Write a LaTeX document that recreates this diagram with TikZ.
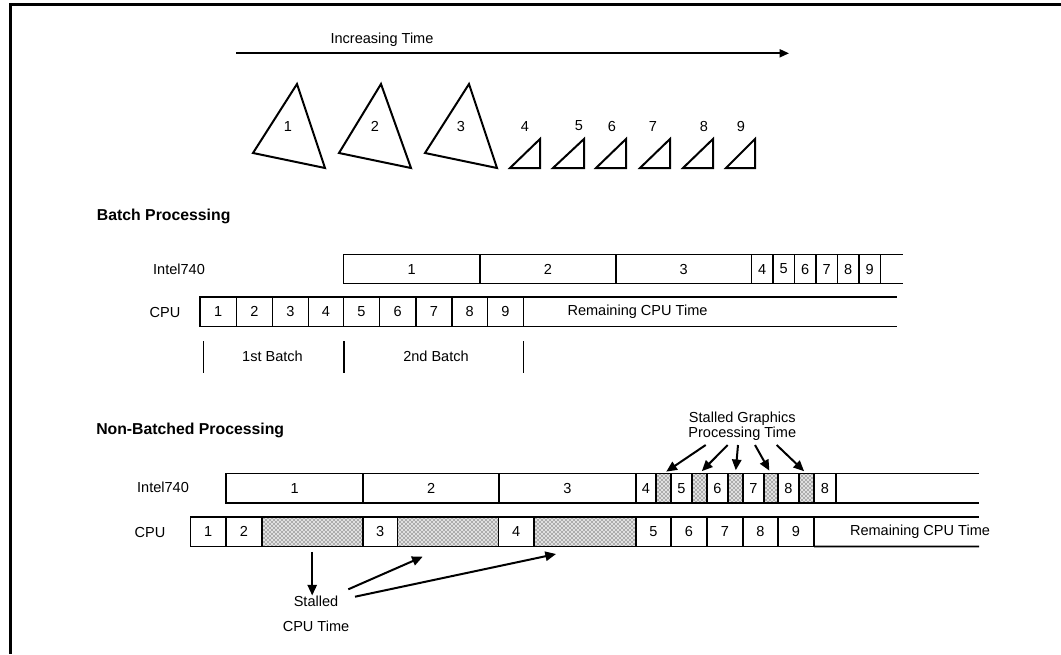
\documentclass[tikz,border=0pt]{standalone}
\usepackage{fontspec}
\setmainfont{Liberation Sans}
\usetikzlibrary{arrows.meta,patterns}
\newcommand{\cellat}[7][cell]{%
  \pgfmathsetmacro\cellcx{(#3+#4)/2}%
  \pgfmathsetmacro\cellcw{(#4-#3)*0.75}%
  \pgfmathsetmacro\cellcy{(#5+#6)/2}%
  \pgfmathsetmacro\cellch{(#6-#5)*0.75}%
  \node[#1, minimum width=\cellcw pt, minimum height=\cellch pt] (#2) at (\cellcx,\cellcy) {#7};}
\begin{document}
\begin{tikzpicture}[x=0.75pt,y=-0.75pt,
  txt/.style={inner sep=0pt, font=\fontsize{10.9}{13}\selectfont},
  head/.style={inner sep=0pt, anchor=west, font=\fontsize{11.85}{14}\selectfont\bfseries},
  cell/.style={draw, line width=1.4pt, inner sep=0pt, outer sep=0pt, font=\fontsize{10.9}{13}\selectfont},
  shd/.style={cell, fill=black!12, postaction={pattern=crosshatch dots, pattern color=black}},
  tri/.style={line width=1.5pt, line join=miter},
  rowline/.style={line width=1.4pt},
  arr/.style={line width=1.5pt, -{Triangle[length=8pt,width=7pt]}},
]
\useasboundingbox (0,0) rectangle (1061,654);
% frame
\draw[line width=2.3pt] (1061,4.2) -- (10.5,4.2) -- (10.5,654);
% time arrow
\node[txt] (inc) at (382,40) {Increasing Time};
\coordinate (t0) at (236,53.3);
\coordinate (t1) at (789,53.3);
\draw[line width=1.3pt, -{Triangle[length=7pt,width=6pt]}] (t0) -- (t1);
% big triangles
\draw[tri] (297,84) -- (253,153) -- (325,168) -- cycle;
\node[txt] (g1) at (288,126) {1};
\draw[tri] (381,84) -- (339,153) -- (411,168) -- cycle;
\node[txt] (g2) at (375,126) {2};
\draw[tri] (469,84) -- (425,153) -- (497,168) -- cycle;
\node[txt] (g3) at (461,126) {3};
% small triangles
\draw[tri] (510,168) -- (540,168) -- (540,139) -- cycle;
\node[txt] (g4) at (525,126) {4};
\draw[tri] (553,168) -- (584,168) -- (584,139) -- cycle;
\node[txt] (g5) at (579,126) {5};
\draw[tri] (596,168) -- (626,168) -- (626,139) -- cycle;
\node[txt] (g6) at (612,126) {6};
\draw[tri] (640,168) -- (670,168) -- (670,139) -- cycle;
\node[txt] (g7) at (653,126) {7};
\draw[tri] (683,168) -- (713,168) -- (713,139) -- cycle;
\node[txt] (g8) at (704,126) {8};
\draw[tri] (726,168) -- (755,168) -- (755,139) -- cycle;
\node[txt] (g9) at (741,126) {9};

% ---------------- Batch processing
\node[head] (bp) at (96.7,216.7) {Batch Processing};
\node[txt] (bil) at (179,269) {Intel740};
\node[txt] (bcl) at (165,312.5) {CPU};
\cellat{bi1}{343.5}{480}{254.5}{283.5}{1}
\cellat{bi2}{480}{616}{254.5}{283.5}{2}
\cellat{bi3}{616}{751.5}{254.5}{283.5}{3}
\cellat{bi4}{751.5}{773}{254.5}{283.5}{4}
\cellat{bi5}{773}{794.5}{254.5}{283.5}{5}
\cellat{bi6}{794.5}{816}{254.5}{283.5}{6}
\cellat{bi7}{816}{837.5}{254.5}{283.5}{7}
\cellat{bi8}{837.5}{859}{254.5}{283.5}{8}
\cellat{bi9}{859}{880.5}{254.5}{283.5}{9}
\draw[rowline] (bi9.north east) -- (903,254.5);
\draw[rowline] (bi9.south east) -- (903,283.5);

\cellat{bc1}{200}{236.5}{297}{326.5}{1}
\cellat{bc2}{236.5}{272.5}{297}{326.5}{2}
\cellat{bc3}{272.5}{308.5}{297}{326.5}{3}
\cellat{bc4}{308.5}{343.5}{297}{326.5}{4}
\cellat{bc5}{343.5}{379.5}{297}{326.5}{5}
\cellat{bc6}{379.5}{416}{297}{326.5}{6}
\cellat{bc7}{416}{452}{297}{326.5}{7}
\cellat{bc8}{452}{487.5}{297}{326.5}{8}
\cellat{bc9}{487.5}{523.5}{297}{326.5}{9}
\draw[rowline] (bc9.north east) -- (897,297);
\draw[rowline] (bc9.south east) -- (897,326.5);
\node[txt] (brem) at (637.5,312) {Remaining CPU Time};

\draw[rowline] (203.5,341) -- (203.5,373);
\draw[rowline] (344,341) -- (344,373);
\draw[rowline] (523.5,341) -- (523.5,373);
\node[txt] (b1) at (272.5,356) {1st Batch};
\node[txt] (b2) at (436,356) {2nd Batch};

% ---------------- Non-batched processing
\node[head] (nbp) at (96,430) {Non-Batched Processing};
\node[txt] (nil) at (163,487.5) {Intel740};
\node[txt] (ncl) at (150,532) {CPU};
\cellat{ni1}{226}{363.3}{473.5}{503}{1}
\cellat{ni2}{363.3}{499}{473.5}{503}{2}
\cellat{ni3}{499}{636}{473.5}{503}{3}
\cellat{ni4}{636}{656}{473.5}{503}{4}
\cellat[shd]{ns1}{656}{671}{473.5}{503}{}
\cellat{ni5}{671}{692}{473.5}{503}{5}
\cellat[shd]{ns2}{692}{707}{473.5}{503}{}
\cellat{ni6}{707}{728}{473.5}{503}{6}
\cellat[shd]{ns3}{728}{743}{473.5}{503}{}
\cellat{ni7}{743}{764}{473.5}{503}{7}
\cellat[shd]{ns4}{764}{778}{473.5}{503}{}
\cellat{ni8}{778}{799}{473.5}{503}{8}
\cellat[shd]{ns5}{799}{814}{473.5}{503}{}
\cellat{ni9}{814}{836}{473.5}{503}{8}
\draw[rowline] (ni9.north east) -- (979,473.5);
\draw[rowline] (ni9.south east) -- (979,503);

\cellat{nc1}{190.5}{226}{516.7}{546.5}{1}
\cellat{nc2}{226}{261.7}{516.7}{546.5}{2}
\cellat[shd]{ncs1}{261.7}{362.7}{516.7}{546.5}{}
\cellat{nc3}{362.7}{397.5}{516.7}{546.5}{3}
\cellat[shd]{ncs2}{397.5}{498.5}{516.7}{546.5}{}
\cellat{nc4}{498.5}{534}{516.7}{546.5}{4}
\cellat[shd]{ncs3}{534}{636}{516.7}{546.5}{}
\cellat{nc5}{636}{671}{516.7}{546.5}{5}
\cellat{nc6}{671}{707}{516.7}{546.5}{6}
\cellat{nc7}{707}{743}{516.7}{546.5}{7}
\cellat{nc8}{743}{778}{516.7}{546.5}{8}
\cellat{nc9}{778}{814}{516.7}{546.5}{9}
\draw[rowline] (nc9.north east) -- (979,516.7);
\draw[rowline] (nc9.south east) -- (979,546.5);
\node[txt] (nrem) at (920,531.5) {Remaining CPU Time};

% stalled graphics
\node[txt, align=center, font=\fontsize{10.9}{11.3}\selectfont] (sg) at (742.3,426.5) {Stalled Graphics\\Processing Time};
\coordinate (sa1) at (705.7,445);
\coordinate (sa2) at (727.7,445);
\coordinate (sa3) at (738,445);
\coordinate (sa4) at (755,445);
\coordinate (sa5) at (776.7,445);
\draw[arr, shorten >=2.5pt] (sa1) -- (ns1.north);
\draw[arr, shorten >=2.5pt] (sa2) -- (ns2.north);
\draw[arr, shorten >=2.5pt] (sa3) -- (ns3.north);
\draw[arr, shorten >=2.5pt] (sa4) -- (ns4.north);
\draw[arr, shorten >=2.5pt] (sa5) -- (ns5.north);

% stalled CPU
\node[txt] (st) at (316,601.7) {Stalled};
\node[txt] (ct) at (316,626) {CPU Time};
\draw[arr, shorten <=4pt, shorten >=0.5pt] (ncs1.south) -- (ncs1.south |- st.north);
\coordinate (c2s) at (348.3,589.3);
\coordinate (c2e) at (422.7,556.7);
\coordinate (c3s) at (355,596.7);
\coordinate (c3e) at (556,554);
\draw[arr] (c2s) -- (c2e);
\draw[arr] (c3s) -- (c3e);
\end{tikzpicture}
\end{document}
